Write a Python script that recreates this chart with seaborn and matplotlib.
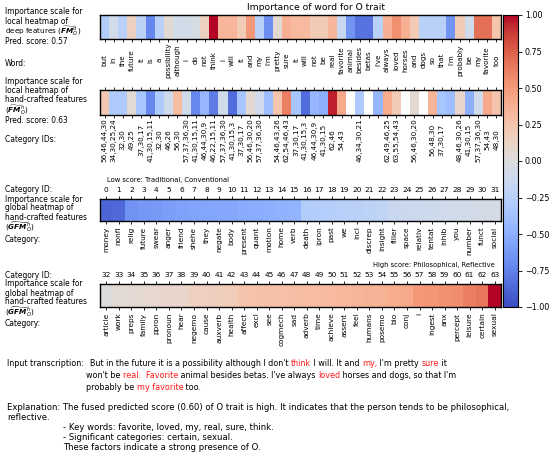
import numpy as np
import matplotlib
matplotlib.use("Agg")
import matplotlib.pyplot as plt
import seaborn as sns
from matplotlib.ticker import FuncFormatter
from matplotlib.mathtext import MathTextParser

# ---------------- data ----------------
words = ["but", "in", "the", "future", "it", "is", "a", "possibility", "although", "i",
         "do", "not", "think", "i", "will", "it", "and", "my", "i'm", "pretty",
         "sure", "it", "will", "not", "be", "real", "favorite", "animal", "besides", "betas",
         "i've", "always", "loved", "horses", "and", "dogs", "so", "that", "i'm", "probably",
         "be", "my", "favorite", "too"]

deep_scores = [-0.28, -0.08, -0.25, 0.15, -0.22, -0.72, -0.25, 0.05, -0.08, -0.08,
               -0.05, 0.15, 1.00, 0.35, 0.35, 0.20, 0.50, -0.25, -0.68, 0.05,
               0.38, 0.32, 0.32, 0.20, 0.20, 0.35, -0.15, -0.65, -0.82, -0.82,
               -0.25, 0.38, 0.55, 0.38, 0.20, -0.25, -0.25, -0.25, -0.65, 0.20,
               -0.10, 0.68, 0.68, 0.25]

hand_scores = [0.22, -0.30, -0.30, 0.05, -0.35, -0.72, -0.30, -0.10, 0.30, -0.10,
               -0.72, -0.45, -0.78, -0.10, -0.85, -0.35, 0.05, -0.10, -0.40, 0.25,
               0.62, -0.35, -0.85, -0.45, -0.50, 0.95, 0.42, np.nan, -0.30, np.nan,
               -0.45, 0.40, 0.20, np.nan, 0.05, np.nan, 0.35, -0.35, -0.40, 0.10,
               -0.50, -0.10, 0.42, 0.25]

category_ids = ["56,46,44,30", "34,30,25,24", "32,30", "49,25", "37,30,17", "41,30,15,11",
                "32,30", "46,26", "56,30", "57,37,36,30", "41,30,15,11", "46,44,30,9",
                "46,22,15,11", "57,37,36,30", "41,30,15,3", "37,30,17", "56,46,30,20",
                "57,37,36,30", "", "54,46,43,26", "62,54,46,43", "37,30,17", "41,30,15,3",
                "46,44,30,9", "41,30,15", "62,46", "54,43", "", "46,34,30,21", "",
                "", "62,49,46,25", "63,55,54,43", "", "56,46,30,20", "", "56,48,30",
                "37,30,17", "", "48,46,30,26", "41,30,15", "57,37,36,30", "54,43", "48,30"]

low_ids = list(range(0, 32))
low_names = ["money", "nonfl", "relig", "future", "swear", "anger", "friend", "shehe",
             "they", "negate", "body", "present", "quant", "motion", "home", "verb",
             "death", "ipron", "past", "we", "incl", "discrep", "insight", "filler",
             "space", "relativ", "tentat", "inhib", "you", "number", "funct", "social"]
low_scores = [-0.88, -0.86, -0.66, -0.64, -0.62, -0.60, -0.58, -0.57, -0.56, -0.55,
              -0.54, -0.53, -0.51, -0.50, -0.48, -0.47, -0.28, -0.27, -0.26, -0.25,
              -0.24, -0.22, -0.20, -0.14, -0.13, -0.12, -0.11, -0.10, -0.09, -0.08,
              -0.07, -0.06]

high_ids = list(range(32, 64))
high_names = ["article", "work", "preps", "family", "ppron", "pronoun", "hear", "negemo",
              "cause", "auxverb", "health", "affect", "excl", "see", "cogmech", "sad",
              "adverb", "time", "achieve", "assent", "feel", "humans", "posemo", "bio",
              "conj", "i", "ingest", "anx", "percept", "leisure", "certain", "sexual"]
high_scores = [0.00, 0.04, 0.06, 0.07, 0.08, 0.09, 0.10, 0.15, 0.16, 0.17,
               0.18, 0.25, 0.26, 0.27, 0.28, 0.29, 0.30, 0.31, 0.32, 0.33,
               0.35, 0.36, 0.37, 0.40, 0.42, 0.50, 0.52, 0.54, 0.56, 0.62,
               0.66, 1.00]

# ---------------- layout helpers ----------------
W, H = 550, 457
fig = plt.figure(figsize=(5.5, 4.57), dpi=100)


def box(x0, y0, x1, y1):
    return [x0 / W, 1 - y1 / H, (x1 - x0) / W, (y1 - y0) / H]


def fx(x):
    return x / W


def fy(y):
    return 1 - y / H


try:
    MathTextParser("path").parse(r"$\mathbfit{FM}$")
    BF = r"\mathbfit"
except Exception:
    BF = r"\mathbf"

CMAP = "coolwarm"


def frame(ax):
    for s in ax.spines.values():
        s.set_visible(True)
        s.set_color("black")
        s.set_linewidth(1.0)


# ---------------- local heatmap (deep) ----------------
ax1 = fig.add_axes(box(100, 15, 501, 39))
cax = fig.add_axes(box(503, 15, 518, 307))
sns.heatmap(np.array([deep_scores]), ax=ax1, cmap=CMAP, vmin=-1, vmax=1,
            cbar=True, cbar_ax=cax, xticklabels=words, yticklabels=False)
frame(ax1)
ax1.tick_params(axis="x", length=2.5, width=0.6, labelsize=5.1, pad=12.6)
for lbl in ax1.get_xticklabels():
    lbl.set_rotation(90)
    lbl.set_va("center")
fig.text(fx(316), fy(7), "Importance of word for O trait", fontsize=6.6,
         ha="center", va="center")

cbar = ax1.collections[0].colorbar
cbar.set_ticks([-1, -0.75, -0.5, -0.25, 0, 0.25, 0.5, 0.75, 1])
cbar.ax.yaxis.set_major_formatter(FuncFormatter(lambda v, p: f"{v:.2f}".replace("-", "\u2212")))
cbar.ax.tick_params(labelsize=5.8, length=3, width=0.6, pad=2)
cbar.outline.set_visible(True)
cbar.outline.set_linewidth(0.8)
cbar.outline.set_edgecolor("black")

# ---------------- local heatmap (hand-crafted) ----------------
ax2 = fig.add_axes(box(100, 90, 501, 115))
sns.heatmap(np.array([hand_scores]), ax=ax2, cmap=CMAP, vmin=-1, vmax=1,
            cbar=False, xticklabels=category_ids, yticklabels=False)
frame(ax2)
ax2.tick_params(axis="x", length=2.5, width=0.6, labelsize=5.2, pad=15.5, top=True)
for lbl in ax2.get_xticklabels():
    lbl.set_rotation(90)
    lbl.set_va("center")

# ---------------- global heatmaps ----------------
def gfm(ybox, ids, names, scores):
    ax = fig.add_axes(box(100, ybox[0], 501, ybox[1]))
    sns.heatmap(np.array([scores]), ax=ax, cmap=CMAP, vmin=-1, vmax=1,
                cbar=False, xticklabels=names, yticklabels=False)
    frame(ax)
    ax.tick_params(axis="x", length=2.5, width=0.6, labelsize=5.3, pad=1.5, rotation=90)
    sec = ax.secondary_xaxis("top")
    sec.set_xticks(np.arange(len(ids)) + 0.5, labels=[str(i) for i in ids])
    sec.tick_params(length=2.5, width=0.6, labelsize=5.3, pad=1.5)
    sec.spines["top"].set_visible(False)
    return ax


gfm((199, 221), low_ids, low_names, low_scores)
gfm((284, 307), high_ids, high_names, high_scores)

fig.text(fx(107), fy(180), "Low score: Traditional, Conventional", fontsize=4.9,
         ha="left", va="center")
fig.text(fx(495), fy(265), "High score: Philosophical, Reflective", fontsize=4.9,
         ha="right", va="center")

# ---------------- left labels ----------------
FS = 5.45
MFS = 5.2
LS = 1.0

FM_D = r"deep features ($\widetilde{" + BF + r"{FM}}^{d}_{O}$)"
FM_H = r"($\widetilde{" + BF + r"{FM}}^{h}_{O}$)"
GFM_H = r"($\widetilde{" + BF + r"{GFM}}^{h}_{O}$)"


def block(y_first, lines):
    fig.text(fx(5), fy(y_first - 4.5), "\n".join(lines), fontsize=FS, ha="left", va="top",
             linespacing=LS)


def line(y, txt, fs=FS):
    fig.text(fx(5), fy(y), txt, fontsize=fs, ha="left", va="center")


block(12, ["Importance scale for", "local heatmap of"])
line(31, FM_D, MFS)
line(42, "Pred. score: 0.57")
line(63, "Word:")
block(81.5, ["Importance scale for", "local heatmap of", "hand-crafted features"])
line(110.5, FM_H, MFS)
line(120.5, "Pred. score: 0.63")
line(140, "Category IDs:")
for y0, ym, yc in [(190, 227.5, 239), (275, 312.5, 323.5)]:
    block(y0, ["Category ID:", "Importance scale for", "global heatmap of",
               "hand-crafted features"])
    line(ym, GFM_H, MFS)
    line(yc, "Category:")

# ---------------- bottom text ----------------
renderer = fig.canvas.get_renderer()


def seg_width(txt, fs):
    a = fig.text(0, 0, "|" + txt + "|", fontsize=fs)
    b = fig.text(0, 0, "||", fontsize=fs)
    w = a.get_window_extent(renderer).width - b.get_window_extent(renderer).width
    a.remove()
    b.remove()
    return w


def segments(x0, y0, segs, fs):
    x = x0
    for txt, col in segs:
        fig.text(fx(x), fy(y0), txt, color=col, fontsize=fs, ha="left", va="center")
        x += seg_width(txt, fs)


TFS = 5.75
RED = "#ff1a1a"
K = "black"
fig.text(fx(7), fy(364), "Input transcription:", fontsize=TFS, ha="left", va="center")
segments(90, 364, [("But in the future it is a possibility although I don't ", K), ("think", RED),
                   (" I will. It and ", K), ("my,", RED), (" I'm pretty ", K), ("sure", RED),
                   (" it", K)], TFS)
segments(86, 376, [("won't be ", K), ("real.  Favorite", RED),
                   (" animal besides betas. I've always ", K), ("loved", RED),
                   (" horses and dogs, so that I'm", K)], TFS)
segments(86, 387, [("probably be ", K), ("my favorite", RED), (" too.", K)], TFS)

EFS = 6.1
fig.text(fx(7), fy(408),
         "Explanation: The fused predicted score (0.60) of O trait is high. It indicates that the person tends to be philosophical,",
         fontsize=EFS, ha="left", va="center")
fig.text(fx(7), fy(418), "reflective.", fontsize=EFS, ha="left", va="center")
fig.text(fx(63), fy(428), "- Key words: favorite, loved, my, real, sure, think.", fontsize=EFS,
         ha="left", va="center")
fig.text(fx(63), fy(438), "- Significant categories: certain, sexual.", fontsize=EFS,
         ha="left", va="center")
fig.text(fx(63), fy(448), "These factors indicate a strong presence of O.", fontsize=EFS,
         ha="left", va="center")

fig.savefig("out.png", dpi=100)
